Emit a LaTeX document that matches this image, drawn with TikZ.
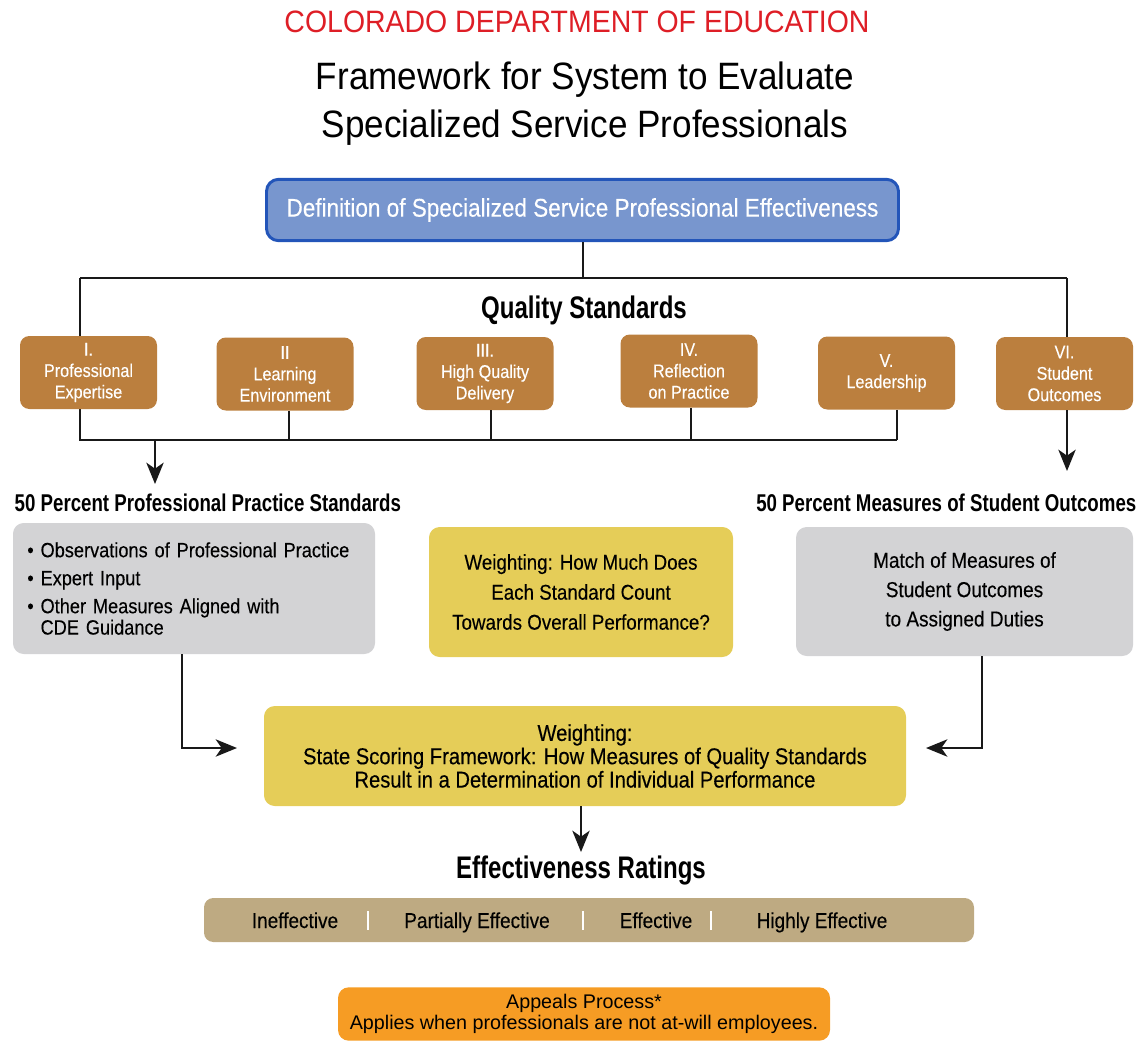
\documentclass[tikz,border=0pt]{standalone}
\usepackage{fontspec}
\setmainfont{Liberation Sans}
\newfontfamily\cnd{Liberation Sans}[FakeStretch=0.88,FakeBold=0.25]
\newfontfamily\bcnd{Liberation Sans}[FakeStretch=0.77]
\newfontfamily\ttl{Liberation Sans}[FakeStretch=0.92]
\usetikzlibrary{arrows.meta}
\definecolor{cdered}{RGB}{222,30,38}
\definecolor{bluefill}{RGB}{120,150,206}
\definecolor{blueedge}{RGB}{35,85,185}
\definecolor{brownc}{RGB}{187,127,62}
\definecolor{grayc}{RGB}{211,211,213}
\definecolor{yellowc}{RGB}{229,205,88}
\definecolor{tanc}{RGB}{190,170,130}
\definecolor{orangec}{RGB}{246,156,36}
\begin{document}
\begin{tikzpicture}[x=0.75pt,y=-0.75pt,
  conn/.style={line width=1.5pt,draw=black!90},
  arr/.style={conn,-{Stealth[length=16pt,width=13pt,inset=4.5pt]}},
  brownbox/.style={rounded corners=7pt,fill=brownc,text=white,minimum width=102.75pt,minimum height=54.75pt,inner sep=0pt,align=center,font=\cnd\fontsize{13.8}{16}\selectfont},
  graybox/.style={rounded corners=8pt,fill=grayc,inner sep=0pt,font=\cnd\fontsize{15.5}{22}\selectfont},
  yelbox/.style={rounded corners=8pt,fill=yellowc,inner sep=0pt,align=center},
  heading/.style={font=\bcnd\bfseries\fontsize{18.2}{20}\selectfont},
  bigheading/.style={font=\bcnd\bfseries\fontsize{23.4}{26}\selectfont},
  rating/.style={anchor=base,font=\cnd\fontsize{16.2}{18}\selectfont}]
\useasboundingbox (0,0) rectangle (1148,1043);
% titles
\node[text=cdered,font=\ttl\fontsize{23.2}{25}\selectfont] (org) at (577,22) {COLORADO DEPARTMENT OF EDUCATION};
\node[align=center,font=\ttl\fontsize{28.6}{36}\selectfont] (title) at (585,104) {Framework for System to Evaluate\\Specialized Service Professionals};
% definition box
\node[rounded corners=9pt,fill=bluefill,draw=blueedge,line width=2.2pt,text=white,minimum width=474pt,minimum height=46pt,inner sep=0pt,font=\cnd\fontsize{19.2}{20}\selectfont] (def) at (582.5,210) {Definition of Specialized Service Professional Effectiveness};
% tree coordinates
\coordinate (tl) at (80,278);
\coordinate (tr) at (1067,278);
\coordinate (bl) at (80,440);
\coordinate (br) at (897,440);
\coordinate (ab) at (155,440);
\coordinate (at) at (155,484);
\coordinate (vt) at (1067,471);
\draw[conn] (def.south) -- (def.south |- tl);
\draw[conn] (tl) -- (tr);
\draw[conn] (tl) -- (bl) -- (br);
\node[bigheading] (qs) at (584,310) {Quality Standards};
% standards
\node[brownbox] (s1) at (88.5,372.5) {I.\\Professional\\Expertise};
\node[brownbox] (s2) at (285,374) {II\\Learning\\Environment};
\node[brownbox] (s3) at (485,373.5) {III.\\High Quality\\Delivery};
\node[brownbox] (s4) at (689,371) {IV.\\Reflection\\on Practice};
\node[brownbox] (s5) at (886.5,373) {V.\\Leadership};
\node[brownbox] (s6) at (1064.5,373.5) {VI.\\Student\\Outcomes};
\draw[conn] (s2.south -| 289,0) -- (289,440);
\draw[conn] (s3.south -| 491,0) -- (491,440);
\draw[conn] (s4.south -| 691,0) -- (691,440);
\draw[conn] (s5.south -| 897,0) -- (br);
\draw[conn] (tr) -- (s6.north -| tr);
\draw[arr] (s6.south -| tr) -- (vt);
\draw[arr] (ab) -- (at);
% 50 percent headings
\node[heading,anchor=west] (h1) at (10,503) {50 Percent Professional Practice Standards};
\node[heading,anchor=east] (h2) at (1141,503) {50 Percent Measures of Student Outcomes};
% middle row
\node[graybox,minimum width=271.5pt,minimum height=98.25pt,text width=250pt,align=left] (pp) at (194,588.5) {\textbullet\ Observations of Professional Practice\\[-1pt]
\textbullet\ Expert Input\\[-1pt]
\textbullet\ Other Measures Aligned with\\[-6pt]
\hphantom{\textbullet\ }CDE Guidance};
\node[yelbox,minimum width=228pt,minimum height=97.5pt,font=\cnd\fontsize{16}{22.5}\selectfont] (w1) at (581,592) {Weighting: How Much Does\\Each Standard Count\\Towards Overall Performance?};
\node[graybox,minimum width=252.75pt,minimum height=96.75pt,align=center,font=\cnd\fontsize{16.2}{22}\selectfont] (so) at (964.5,591.5) {Match of Measures of\\Student Outcomes\\to Assigned Duties};
% scoring framework
\node[yelbox,minimum width=481.5pt,minimum height=75pt,font=\cnd\fontsize{17.2}{17.5}\selectfont] (sf) at (585,756) {Weighting:\\State Scoring Framework: How Measures of Quality Standards\\Result in a Determination of Individual Performance};
\coordinate (la) at (237,748);
\coordinate (ra) at (926,748);
\draw[arr] (pp.south -| 182,0) |- (la);
\draw[arr] (so.south -| 982,0) |- (ra);
\coordinate (ea) at (581,852);
\draw[arr] (sf.south -| ea) -- (ea);
\node[bigheading] (er) at (581,870) {Effectiveness Ratings};
% ratings bar
\node[rounded corners=7pt,fill=tanc,minimum width=577.5pt,minimum height=33pt,inner sep=0pt] (bar) at (589,920) {};
\node[rating] (r1) at (295,928) {Ineffective};
\node[rating] (r2) at (477,928) {Partially Effective};
\node[rating] (r3) at (656,928) {Effective};
\node[rating] (r4) at (822,928) {Highly Effective};
\draw[white,line width=1.5pt] (368,911) -- (368,930);
\draw[white,line width=1.5pt] (583,911) -- (583,930);
\draw[white,line width=1.5pt] (711,911) -- (711,930);
% appeals
\node[rounded corners=8pt,fill=orangec,minimum width=369pt,minimum height=40pt,inner sep=0pt,align=center,font=\fontsize{14.8}{16}\selectfont] (ap) at (584,1014) {Appeals Process*\\Applies when professionals are not at-will employees.};
\end{tikzpicture}
\end{document}
